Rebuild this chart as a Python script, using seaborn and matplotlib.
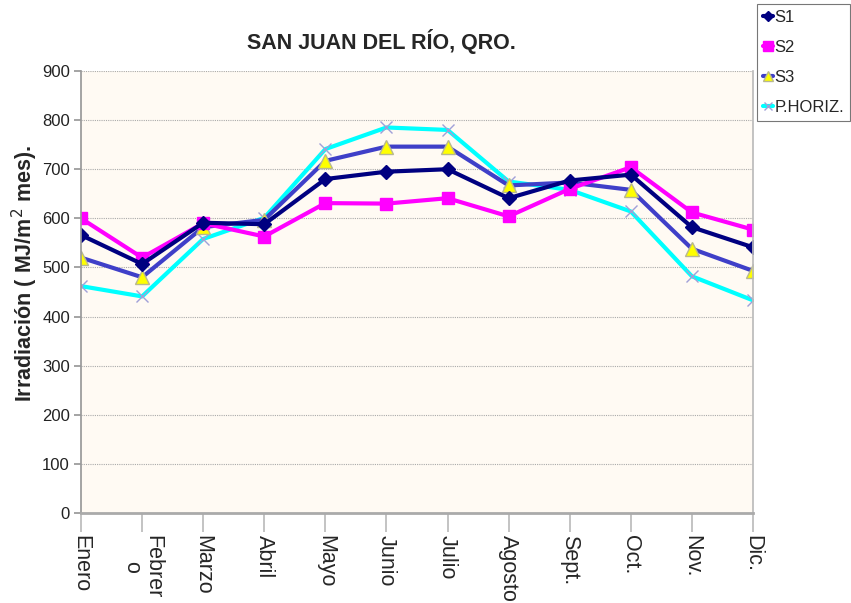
import matplotlib
matplotlib.use("Agg")
import matplotlib.pyplot as plt
import seaborn as sns
import pandas as pd

meses = ["Enero", "Febrer\no", "Marzo", "Abril", "Mayo", "Junio", "Julio",
         "Agosto", "Sept.", "Oct.", "Nov.", "Dic."]
s1 = [566, 507, 591, 588, 680, 695, 700, 641, 677, 689, 582, 541]
s2 = [600, 520, 590, 563, 631, 630, 641, 604, 660, 704, 612, 577]
s3 = [520, 480, 582, 597, 717, 746, 746, 667, 673, 658, 538, 493]
p_horiz = [462, 441, 558, 601, 741, 785, 780, 675, 658, 614, 482, 433]

series = {"S1": s1, "S2": s2, "S3": s3, "P.HORIZ.": p_horiz}
df = pd.DataFrame([
    {"mes": i, "serie": name, "valor": v}
    for name, vals in series.items() for i, v in enumerate(vals)
])

sns.set_theme(style="white")
plt.rcParams["font.family"] = ["Liberation Sans", "DejaVu Sans"]

fig = plt.figure(figsize=(8.51, 6.03), dpi=100)
ax = fig.add_axes([81 / 851, 1 - 513 / 603, (753 - 81) / 851, (513 - 71) / 603])
ax.set_facecolor("#FFFAF3")

styles = {
    "S1": dict(color="#000080", marker="D", markersize=7, mfc="#000080", mec="#000080", lw=3),
    "S2": dict(color="#FF00FF", marker="s", markersize=9, mfc="#FF00FF", mec="#FF00FF", lw=3),
    "S3": dict(color="#3F3FC8", marker="^", markersize=10, mfc="#FFFF00", mec="#B8B890", lw=3),
    "P.HORIZ.": dict(color="#00FFFF", marker="x", markersize=8, mfc="none", mec="#A0A0D8", lw=3),
}

for name in ["P.HORIZ.", "S3", "S2", "S1"]:
    st = styles[name]
    sns.lineplot(data=df[df["serie"] == name], x="mes", y="valor", ax=ax,
                 color=st["color"], linewidth=st["lw"], marker=st["marker"],
                 markersize=st["markersize"], markerfacecolor=st["mfc"],
                 markeredgecolor=st["mec"], markeredgewidth=1, label=name,
                 legend=False)

ax.set_xlim(0, len(meses) - 1)
ax.set_ylim(0, 900)
ax.set_yticks(range(0, 901, 100))
ax.set_xticks(range(len(meses)))
ax.set_xticklabels(meses, rotation=270, fontsize=15.5, va="top", ha="center",
                   linespacing=1.0)
ax.tick_params(axis="y", labelsize=12, length=5, color="#999999", direction="out",
               left=True, pad=3, labelcolor="#222222")
ax.tick_params(axis="x", length=14, color="#BBBBBB", direction="out", bottom=True, pad=2)
ax.yaxis.grid(True, color="#AAAAAA", linestyle=(0, (1, 1)), linewidth=0.8)
ax.xaxis.grid(False)
ax.spines["top"].set_visible(False)
ax.spines["left"].set_color("#999999")
ax.spines["bottom"].set_color("#AAAAAA")
ax.spines["bottom"].set_linewidth(2)
ax.spines["right"].set_visible(True)
ax.spines["right"].set_color("#BBBBBB")
ax.set_xlabel("")
ax.set_ylabel("Irradiación ( MJ/m$^2$ mes).", fontsize=15.5, fontweight="bold",
              va="center", ha="center")
ax.yaxis.set_label_coords(-0.083, 0.543)

fig.text(381 / 851, 1 - 42 / 603, "SAN JUAN DEL RÍO, QRO.", ha="center", va="center",
         fontsize=15.5, fontweight="bold")

handles, labels = [], []
for name in ["S1", "S2", "S3", "P.HORIZ."]:
    st = styles[name]
    h, = ax.plot([], [], color=st["color"], lw=3, marker=st["marker"],
                 markersize=st["markersize"] * 0.75, mfc=st["mfc"], mec=st["mec"])
    handles.append(h)
    labels.append(name)
leg = fig.legend(handles, labels, loc="upper right", bbox_to_anchor=(850 / 851, 1 - 4 / 603),
                 frameon=True, fancybox=False, edgecolor="#555555", fontsize=12,
                 handlelength=0.6, handletextpad=0.1, borderpad=0.35, labelspacing=0.9,
                 borderaxespad=0)
leg.get_frame().set_linewidth(0.8)

fig.savefig("out.png", dpi=100, facecolor="white")
